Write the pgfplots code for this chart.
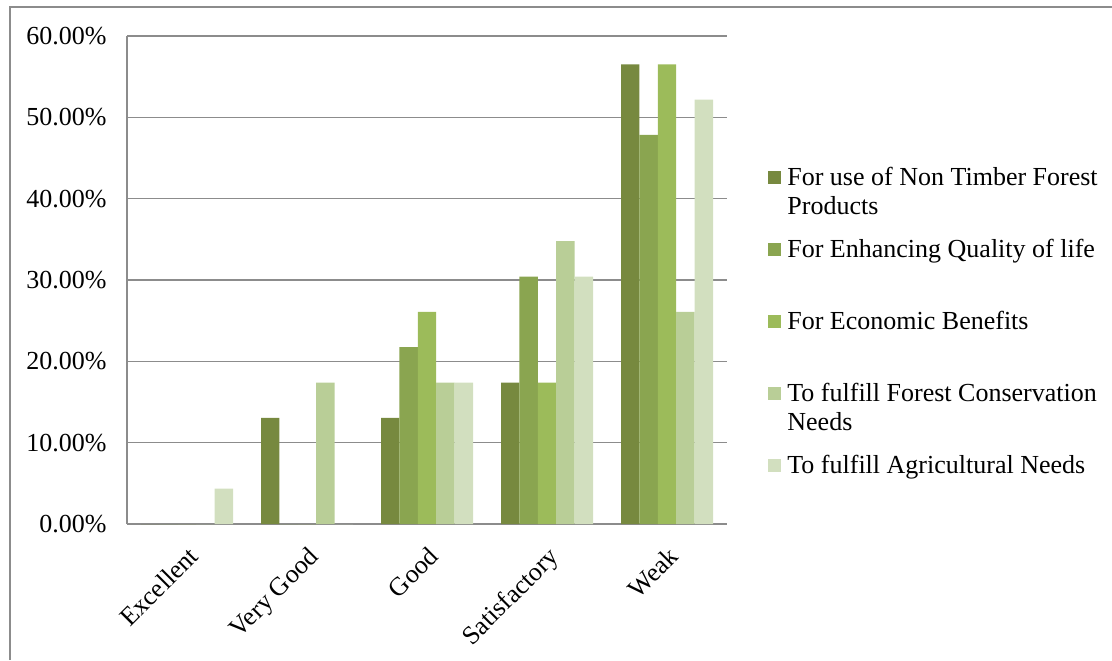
\documentclass[border=0pt]{standalone}
\usepackage{pgfplots}
\pgfplotsset{compat=1.18}
\usepackage{fontspec}
\setmainfont{Liberation Serif}
\definecolor{c1}{HTML}{77893F}
\definecolor{c2}{HTML}{8AA550}
\definecolor{c3}{HTML}{9CBB5A}
\definecolor{c4}{HTML}{B9CE97}
\definecolor{c5}{HTML}{D2DFBF}
\definecolor{gridgray}{HTML}{8C8C8C}
\definecolor{framegray}{HTML}{8C8C8C}
\pgfplotsset{
  mybar/.style={draw=none, fill=#1,
    legend image code/.code={\fill[##1] (0pt,0.5pt) rectangle (6.5pt,7pt);}},
}
\begin{document}
\fontsize{13pt}{14.5pt}\selectfont
\begin{tikzpicture}[font=\fontsize{13pt}{14.5pt}\selectfont]
\useasboundingbox (0,0) rectangle (556pt,330pt);
\draw[framegray, line width=0.75pt] (5pt,0pt) -- (5pt,326.5pt) -- (556pt,326.5pt);
\begin{axis}[
  at={(63.5pt,68pt)}, anchor=south west,
  scale only axis, width=300pt, height=244pt,
  ybar=0pt, bar width=9.2pt,
  xmin=-0.5, xmax=4.5, ymin=0, ymax=60,
  xtick={0,1,2,3,4},
  xticklabels={Excellent,Very Good,Good,Satisfactory,Weak},
  ytick={0,10,20,30,40,50,60},
  yticklabel={\pgfmathprintnumber[fixed,fixed zerofill,precision=2,assume math mode=true]{\tick}\%},
  /pgf/number format/assume math mode=true,
  axis lines*=left,
  axis line style={draw=gridgray, line width=0.8pt},
  ymajorgrids, grid style={draw=gridgray, line width=0.8pt},
  major tick length=0pt,
  x tick label style={rotate=45, anchor=north east, inner sep=0pt, font=\fontsize{13pt}{14.5pt}\selectfont},
  xticklabel shift=10.5pt,
  y tick label style={inner sep=0pt, font=\fontsize{13pt}{14.5pt}\selectfont},
  yticklabel shift=10pt,
  legend style={at={(1,1)}, anchor=north west, xshift=20.5pt, yshift=-64.5pt,
    draw=none, fill=none, inner sep=0pt, row sep=0pt, column sep=3pt,
    cells={anchor=base west},
    nodes={text width=166pt, align=flush left, text height=10pt, text depth=26pt, inner sep=0pt,
      font=\fontsize{13pt}{14.5pt}\selectfont,
      execute at begin node={\raggedright\hyphenpenalty=10000\exhyphenpenalty=10000}}},
]
\addplot[mybar=c1] coordinates {(0,0) (1,13.04) (2,13.04) (3,17.39) (4,56.52)};
\addplot[mybar=c2] coordinates {(0,0) (1,0) (2,21.74) (3,30.43) (4,47.83)};
\addplot[mybar=c3] coordinates {(0,0) (1,0) (2,26.09) (3,17.39) (4,56.52)};
\addplot[mybar=c4] coordinates {(0,0) (1,17.39) (2,17.39) (3,34.78) (4,26.09)};
\addplot[mybar=c5] coordinates {(0,4.35) (1,0) (2,17.39) (3,30.43) (4,52.17)};
\legend{For use of Non Timber Forest Products,For Enhancing Quality of life,For Economic Benefits,To fulfill Forest Conservation Needs,To fulfill Agricultural Needs}
\end{axis}
\end{tikzpicture}
\end{document}
